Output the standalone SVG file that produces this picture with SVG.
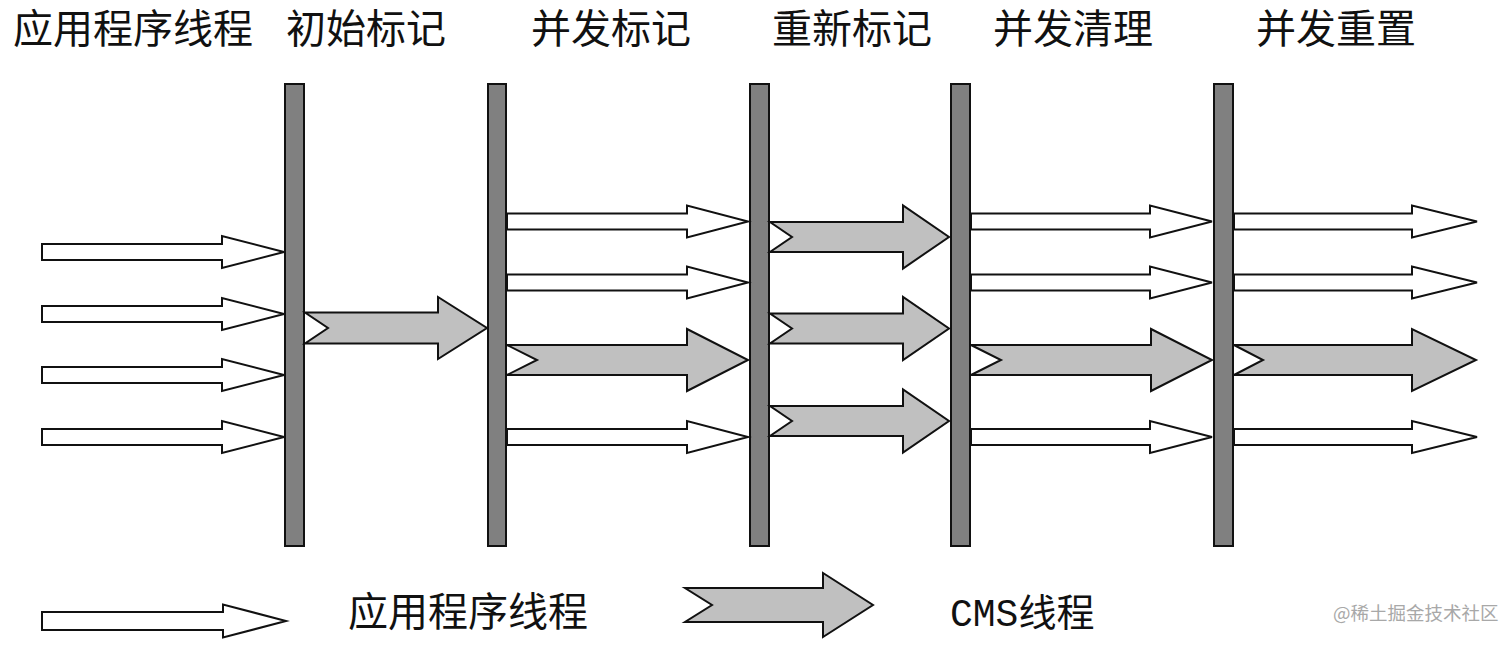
<svg xmlns="http://www.w3.org/2000/svg" width="1512" height="646" viewBox="0 0 1512 646">
<style>
.t{font-family:"Noto Sans CJK SC","Noto Sans",sans-serif;font-size:40px;fill:#111}
.cms{font-family:"Liberation Mono","Noto Sans CJK SC",monospace;font-size:38px;fill:#111}
.wm{font-family:"Noto Sans CJK SC","Noto Sans",sans-serif;font-size:18.5px;fill:#a8a8a8}
.bar{fill:#808080;stroke:#111;stroke-width:2}
.app{fill:#fff;stroke:#111;stroke-width:2;stroke-linejoin:miter}
.cmsA{fill:#c0c0c0;stroke:#111;stroke-width:2;stroke-linejoin:miter}
</style>
<rect width="1512" height="646" fill="#fff"/>
<g id="titles">
<text class="t" x="13" y="43">应用程序线程</text>
<text class="t" x="286" y="43">初始标记</text>
<text class="t" x="531" y="43">并发标记</text>
<text class="t" x="772" y="43">重新标记</text>
<text class="t" x="993" y="43">并发清理</text>
<text class="t" x="1256" y="43">并发重置</text>
</g>
<g id="bar-initial-mark"><rect class="bar" x="285" y="84" width="19" height="462"/></g>
<g id="bar-concurrent-mark"><rect class="bar" x="488" y="84" width="18" height="462"/></g>
<g id="bar-remark"><rect class="bar" x="750" y="84" width="19" height="462"/></g>
<g id="bar-concurrent-sweep"><rect class="bar" x="951" y="84" width="19" height="462"/></g>
<g id="bar-concurrent-reset"><rect class="bar" x="1214" y="84" width="19" height="462"/></g>
<g id="connectors">
<!-- section 1 -->
<polygon class="app" points="42,244 222,244 222,236 284,252 222,268 222,260 42,260"/>
<polygon class="app" points="42,306 222,306 222,298 284,314 222,330 222,322 42,322"/>
<polygon class="app" points="42,367 222,367 222,359 284,375 222,391 222,383 42,383"/>
<polygon class="app" points="42,429 222,429 222,421 284,437 222,453 222,445 42,445"/>
<polygon class="cmsA" points="305,312.5 438,312.5 438,297 487,328 438,359 438,343.5 305,343.5 328,328"/>
<!-- section 2 -->
<polygon class="app" points="507,213.5 687,213.5 687,205.5 748,221.5 687,237.5 687,229.5 507,229.5"/>
<polygon class="app" points="507,274.5 687,274.5 687,266.5 748,282.5 687,298.5 687,290.5 507,290.5"/>
<polygon class="cmsA" points="507,345 687,345 687,329 748,360 687,391 687,375 507,375 537,360"/>
<polygon class="app" points="507,429 687,429 687,421 748,437 687,453 687,445 507,445"/>
<!-- section 3 -->
<polygon class="cmsA" points="770,222 903,222 903,205.5 949,237 903,268.5 903,252 770,252 792,237"/>
<polygon class="cmsA" points="770,313.5 903,313.5 903,297 949,328.5 903,360 903,343.5 770,343.5 792,328.5"/>
<polygon class="cmsA" points="770,406 903,406 903,389.5 949,421 903,452.5 903,436 770,436 792,421"/>
<!-- section 4 -->
<polygon class="app" points="971,213.5 1150,213.5 1150,205.5 1212,221.5 1150,237.5 1150,229.5 971,229.5"/>
<polygon class="app" points="971,274.5 1150,274.5 1150,266.5 1212,282.5 1150,298.5 1150,290.5 971,290.5"/>
<polygon class="cmsA" points="971,345 1151,345 1151,329 1212,360 1151,391 1151,375 971,375 1001,360"/>
<polygon class="app" points="971,429 1150,429 1150,421 1212,437 1150,453 1150,445 971,445"/>
<!-- section 5 -->
<polygon class="app" points="1234,213.5 1412,213.5 1412,205.5 1477,221.5 1412,237.5 1412,229.5 1234,229.5"/>
<polygon class="app" points="1234,274.5 1412,274.5 1412,266.5 1477,282.5 1412,298.5 1412,290.5 1234,290.5"/>
<polygon class="cmsA" points="1234,345 1412,345 1412,329 1476,360 1412,391 1412,375 1234,375 1263,360"/>
<polygon class="app" points="1234,429 1412,429 1412,421 1477,437 1412,453 1412,445 1234,445"/>
</g>
<g id="legend">
<polygon class="app" points="42,612 223,612 223,604.5 286,621 223,637.5 223,630 42,630"/>
<text class="t" x="348" y="626">应用程序线程</text>
<polygon class="cmsA" points="685,588 823,588 823,573 873,605 823,637 823,622 685,622 712,605"/>
<text class="cms" x="950" y="626">CMS线程</text>
</g>
<text class="wm" x="1333" y="620">@稀土掘金技术社区</text>
</svg>
